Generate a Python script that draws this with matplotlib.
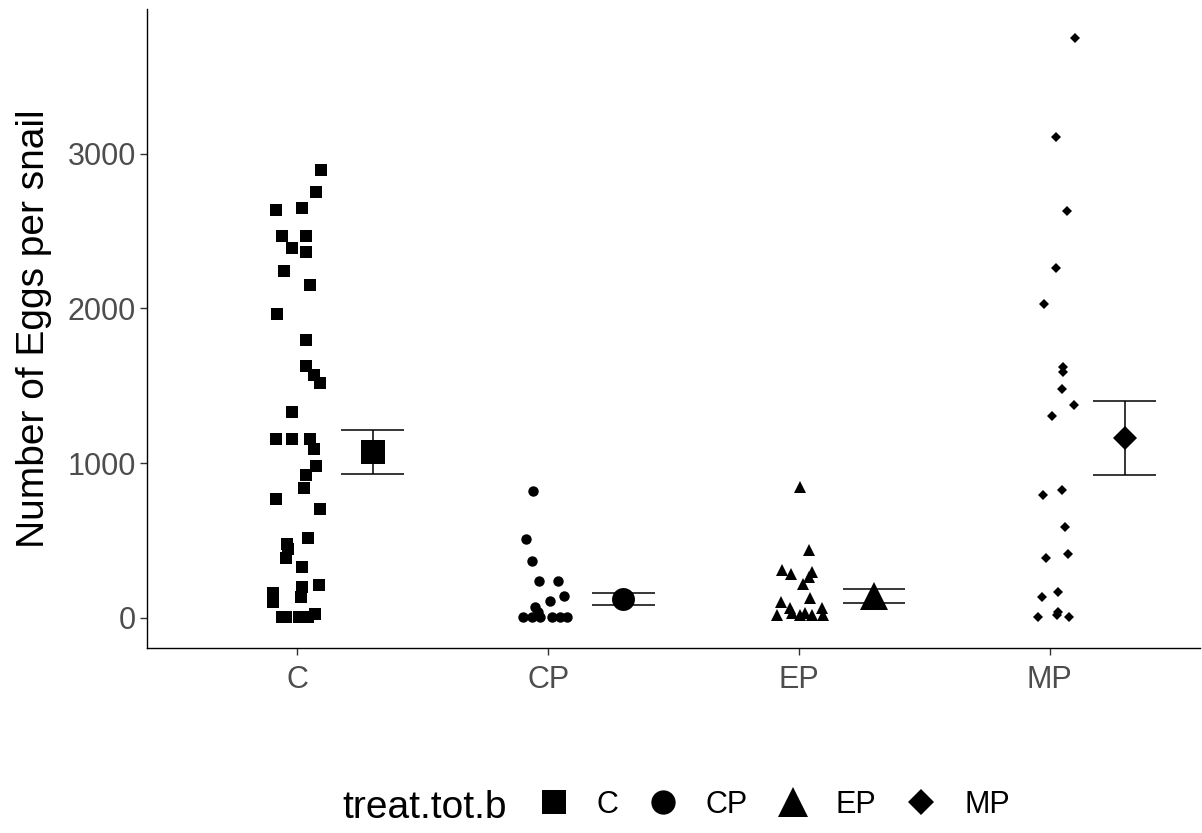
import numpy as np
import matplotlib
matplotlib.use('Agg')
import matplotlib.pyplot as plt
from matplotlib.lines import Line2D

plt.rcParams['font.family'] = ['Liberation Sans', 'DejaVu Sans']

# treatment groups
groups = ['C', 'CP', 'EP', 'MP']

# eggs per snail and horizontal jitter in category units
eggs_c = [2895, 2753, 2634, 2647, 2466, 2466, 2390, 2362, 2239, 2149,
          1963, 1793, 1625, 1573, 1521, 1333, 1159, 1159, 1159, 1094,
          984, 923, 837, 770, 705, 520, 477, 445, 386, 332,
          214, 203, 159, 105, 138, 8, 8, 8, 26, 4, 4, 4]
jit_c = [0.093, 0.074, -0.087, 0.017, -0.063, 0.034, -0.023, 0.034, -0.055, 0.049,
         -0.083, 0.033, 0.033, 0.066, 0.090, -0.023, -0.087, -0.023, 0.050, 0.066,
         0.074, 0.034, 0.028, -0.087, 0.090, 0.043, -0.043, -0.036, -0.047, 0.017,
         0.086, 0.017, -0.096, -0.096, 0.013, -0.047, 0.017, 0.042, 0.070, -0.060, 0.005, 0.028]

eggs_cp = [822, 509, 371, 239, 239, 144, 108, 73, 41, 8, 8, 8, 8, 8, 8]
jit_cp = [-0.059, -0.089, -0.065, -0.035, 0.038, 0.063, 0.008, -0.052, -0.039,
          -0.101, -0.065, -0.032, 0.014, 0.047, 0.074]

eggs_ep = [846, 440, 311, 285, 300, 267, 220, 127, 106, 63, 63, 19, 34, 19, 19, 19, 34]
jit_ep = [0.005, 0.042, -0.066, -0.032, 0.054, 0.042, 0.018, 0.045, -0.072, -0.035,
          0.091, -0.088, -0.028, 0.005, 0.051, 0.098, 0.025]

eggs_mp = [3745, 3105, 2630, 2263, 2032, 1623, 1590, 1480, 1374, 1307,
           828, 792, 585, 414, 390, 166, 138, 4, 19, 41, 4]
jit_mp = [0.102, 0.026, 0.069, 0.026, -0.021, 0.053, 0.053, 0.049, 0.098, 0.009,
          0.049, -0.025, 0.062, 0.073, -0.015, 0.035, -0.031, -0.047, 0.029, 0.035, 0.079]

# group mean and standard error
means = [1070, 122, 141, 1165]
ses = [142, 38, 47, 240]

eggs = [eggs_c, eggs_cp, eggs_ep, eggs_mp]
jitter = [jit_c, jit_cp, jit_ep, jit_mp]

markers = ['s', 'o', '^', 'D']
point_ms = [8.3, 7.5, 8.5, 5.0]
mean_ms = [17, 16.5, 20, 12.7]
legend_ms = [17, 17.5, 21, 13]

NUDGE = 0.3
CAP = 0.125


def draw_group(ax, i):
    x = i + np.array(jitter[i])
    ax.plot(x, eggs[i], linestyle='none', marker=markers[i], ms=point_ms[i],
            color='black', mew=0, zorder=2)
    xm = i + NUDGE
    lo, hi = means[i] - ses[i], means[i] + ses[i]
    ax.vlines(xm, lo, hi, color='black', lw=1.1, zorder=3)
    ax.hlines([lo, hi], xm - CAP, xm + CAP, color='black', lw=1.1, zorder=3)
    ax.plot([xm], [means[i]], linestyle='none', marker=markers[i], ms=mean_ms[i],
            color='black', mew=0, zorder=4)


if __name__ == "__main__":
    fig = plt.figure(figsize=(12.02, 8.33), dpi=100)
    ax = fig.add_axes([147/1202, 1-648/833, 1053/1202, 639/833])

    for i in range(len(groups)):
        draw_group(ax, i)

    ax.set_xlim(-0.6, 3.6)
    ax.set_ylim(-194, 3935)
    ax.set_xticks(range(len(groups)), groups)
    ax.set_yticks([0, 1000, 2000, 3000])
    for s in ['top', 'right']:
        ax.spines[s].set_visible(False)
    for s in ['left', 'bottom']:
        ax.spines[s].set_linewidth(1.0)
        ax.spines[s].set_color('black')
    ax.tick_params(length=5, width=1, color='#333333', labelsize=22, labelcolor='#4D4D4D')
    ax.tick_params(axis='x', pad=7)
    ax.tick_params(axis='y', pad=3)
    ax.set_ylabel('Number of Eggs per snail', fontsize=28)
    ax.yaxis.set_label_coords(-0.090, 0.5)

    handles = [Line2D([], [], linestyle='none', marker=markers[i], ms=legend_ms[i],
                      color='black', mew=0) for i in range(len(groups))]
    leg = fig.legend(handles, groups, loc='center', bbox_to_anchor=(774/1202, 1-805/833),
                     ncol=4, frameon=False, fontsize=22, handlelength=1.0,
                     handletextpad=0.9, columnspacing=0.97, borderpad=0)
    fig.canvas.draw()
    bb = leg.get_window_extent()
    fig.text((bb.x0 - 31)/1202, 1-818/833, 'treat.tot.b', ha='right', va='baseline',
             fontsize=28)

    plt.savefig('out.png', dpi=100)
